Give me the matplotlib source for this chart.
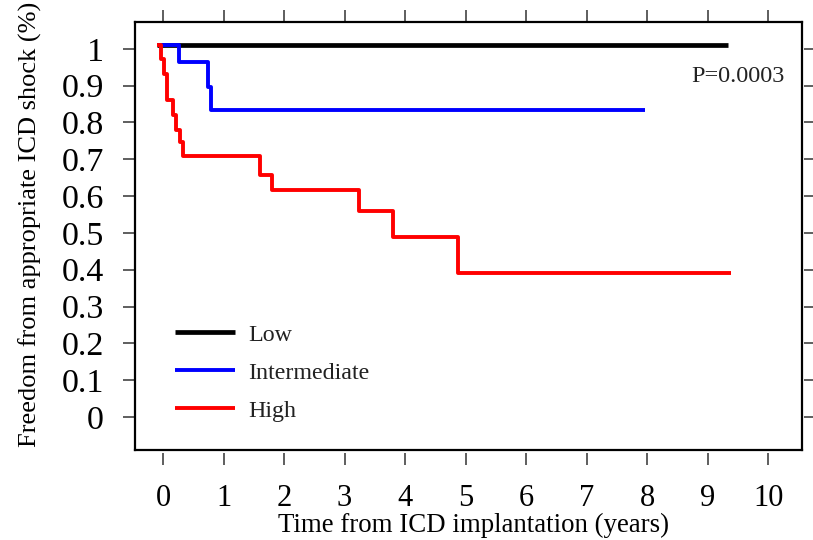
import matplotlib
matplotlib.use("Agg")
import matplotlib.pyplot as plt

plt.rcParams['font.family'] = ['Liberation Serif', 'DejaVu Serif']

# ---- data ----
low_t = [-0.1, 9.34]
low_s = [1.011, 1.011]

inter_t = [-0.1, 0.26, 0.74, 0.79, 7.97]
inter_s = [1.011, 0.965, 0.897, 0.834, 0.834]

high_t = [-0.1, -0.03, 0.02, 0.07, 0.17, 0.21, 0.28, 0.33, 1.60, 1.80, 3.24, 3.80, 4.88, 9.39]
high_s = [1.011, 0.973, 0.932, 0.861, 0.821, 0.780, 0.747, 0.709, 0.658, 0.617, 0.560, 0.489, 0.391, 0.391]

x_ticks = list(range(0, 11))
y_ticks = [0, 0.1, 0.2, 0.3, 0.4, 0.5, 0.6, 0.7, 0.8, 0.9, 1]
y_ticklabels = ['0', '0.1', '0.2', '0.3', '0.4', '0.5', '0.6', '0.7', '0.8', '0.9', '1']
series_names = ['Low', 'Intermediate', 'High']
p_text = 'P=0.0003'

fig = plt.figure(figsize=(8.13, 5.40), dpi=100)
ax = fig.add_axes([0.1661, 0.1667, 0.8204, 0.7926])

ax.step(low_t, low_s, where='post', color='black', lw=3.4, label=series_names[0], solid_capstyle='butt')
ax.step(inter_t, inter_s, where='post', color='#0000ff', lw=2.8, label=series_names[1], solid_capstyle='butt')
ax.step(high_t, high_s, where='post', color='#ff0000', lw=2.8, label=series_names[2], solid_capstyle='butt')

ax.set_xlim(-0.463, 10.56)
ax.set_ylim(-0.0897, 1.073)

ax.set_xticks(x_ticks)
ax.set_yticks(y_ticks)
ax.set_yticklabels(y_ticklabels)

# frame drawn in axes coordinates
for sp in ax.spines.values():
    sp.set_visible(False)
ax.spines['bottom'].set_position(('outward', 2.2))
ax.spines['right'].set_position(('outward', 1.5))
frame_kw = dict(transform=ax.transAxes, color='black', lw=1.6, clip_on=False, solid_capstyle='projecting')
ax.plot([0, 1], [0, 0], **frame_kw)
ax.plot([0, 1], [1, 1], **frame_kw)
ax.plot([0, 0], [0, 1], **frame_kw)
ax.plot([1, 1], [0, 1], **frame_kw)

ax.tick_params(axis='x', which='both', direction='out', length=8.5, width=1.1,
               top=True, bottom=True, labelsize=22, pad=14, color='#333333')
ax.tick_params(axis='y', which='both', direction='out', length=8.6, width=1.1,
               left=True, right=True, labelsize=24.5, pad=14, color='#333333')

ax.set_xlabel('Time from ICD implantation (years)', fontsize=19.4)
ax.xaxis.set_label_coords(0.508, -0.177)
ax.xaxis.label.set_va('center')
ax.set_ylabel('Freedom from appropriate ICD shock (%)', fontsize=19)
ax.yaxis.set_label_coords(-0.157, 0.526)
ax.yaxis.label.set_va('center')

ax.text(9.5, 0.924, p_text, fontsize=17.5, ha='center', va='center', color='#222222')

leg = ax.legend(loc='upper left', bbox_to_anchor=(0.060, 0.295), frameon=False,
                fontsize=17.3, handlelength=2.5, handletextpad=0.55, labelspacing=0.68,
                borderaxespad=0, borderpad=0)
for t in leg.get_texts():
    t.set_color('#222222')

fig.savefig('out.png', dpi=100)
